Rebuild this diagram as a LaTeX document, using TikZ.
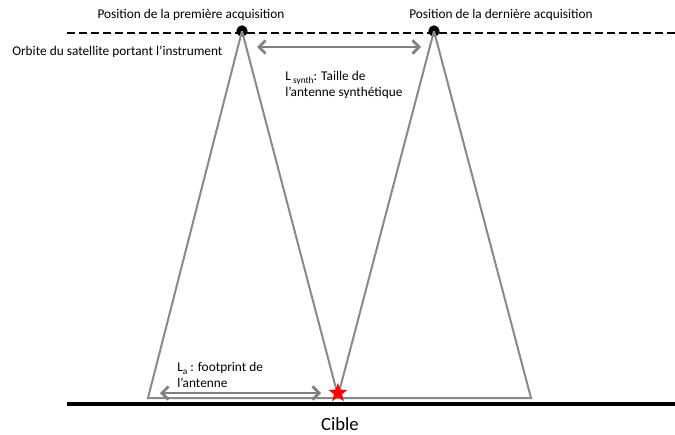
\documentclass[tikz,border=0pt]{standalone}
\usepackage{fontspec}
\setmainfont{Carlito}
\usetikzlibrary{arrows.meta,shapes.geometric}
\begin{document}
\begin{tikzpicture}[x=0.75pt,y=-0.75pt,
  lbl/.style={font=\fontsize{10}{12}\selectfont, inner sep=0pt},
  beam/.style={draw={rgb,255:red,137;green,137;blue,137}, line width=1.5pt},
  span/.style={draw={rgb,255:red,128;green,128;blue,128}, line width=2.2pt,
     {Straight Barb[length=5pt,width=10pt,line width=2pt]}-{Straight Barb[length=5pt,width=10pt,line width=2pt]}},
  sat/.style={circle, fill=black, inner sep=0pt, minimum size=8.5pt}]
\useasboundingbox (0,0) rectangle (675,435);
% orbit and ground
\coordinate (oL) at (67,33);
\coordinate (oR) at (675,33);
\draw[line width=2.2pt, dash pattern=on 6pt off 3pt] (oL) -- (oR);
\coordinate (gL) at (67,404);
\coordinate (gR) at (675,404);
\draw[line width=3pt] (gL) -- (gR);
% satellites
\node[sat] (p1) at (242,31) {};
\node[sat] (p2) at (434,31) {};
% footprint corners
\coordinate (a1) at (148,398);
\coordinate (t) at (338,396);
\coordinate (b2) at (531,398);
\coordinate (tb) at (338,398);
\draw[beam, line join=miter] (p1.center) -- (a1) -- (tb) -- (b2) -- (p2.center);
\draw[beam] (p1.center) -- (t);
\draw[beam] (p2.center) -- (t);
% arrows
\coordinate (s1) at (257,47);
\coordinate (s2) at (421,47);
\draw[span] (s1) -- (s2);
\coordinate (f1) at (160,393);
\coordinate (f2) at (321,393);
\draw[span] (f1) -- (f2);
% target star
\node[star, star points=5, star point ratio=2.4, fill=red, inner sep=0pt, minimum size=15pt] (target) at (338,393) {};
% texts
\node[lbl] (t1) at (191,15) {Position de la première acquisition};
\node[lbl] (t2) at (501,15) {Position de la dernière acquisition};
\node[lbl, anchor=west] (t3) at (12,52) {Orbite du satellite portant l’instrument};
\node[lbl, anchor=west, align=left] (t4) at (285,85) {L\,\raisebox{-0.45ex}{\fontsize{7}{7}\selectfont synth}: Taille de\\l’antenne synthétique};
\node[lbl, anchor=west, align=left] (t5) at (177,375) {L\raisebox{-0.45ex}{\fontsize{7}{7}\selectfont a} : footprint de\\l’antenne};
\node[inner sep=0pt, font=\fontsize{14}{16}\selectfont] (cible) at (340,424) {Cible};
\end{tikzpicture}
\end{document}
